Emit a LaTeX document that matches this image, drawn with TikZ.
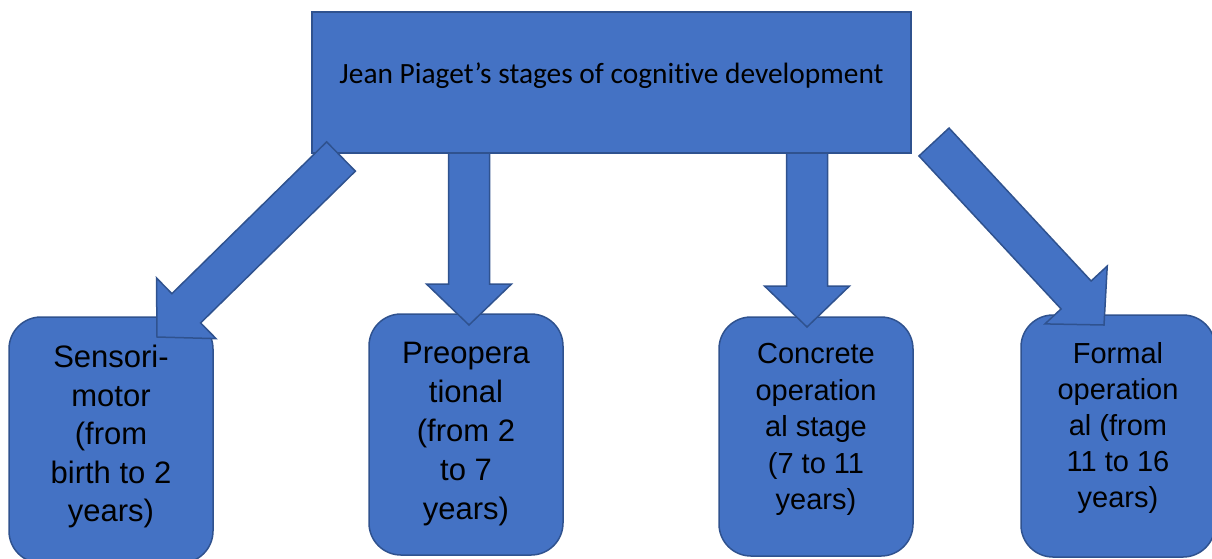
\documentclass[tikz,border=0pt]{standalone}
\usepackage{fontspec}
\setmainfont{Liberation Sans}
\newfontfamily\calibri[Ligatures=NoCommon]{Carlito}
\usetikzlibrary{calc}
\definecolor{fillblue}{HTML}{4472C4}
\definecolor{edgeblue}{HTML}{2F528F}
\tikzset{
  shapebase/.style={fill=fillblue, draw=edgeblue, line width=1.5pt, line join=miter},
  titlebox/.style={shapebase, inner sep=0pt, minimum width=599pt, minimum height=141pt,
    font=\calibri\fontsize{29.4}{35}\selectfont},
  stagebox/.style={shapebase, rounded corners=32pt, inner sep=0pt, align=center,
    minimum width=194pt},
  bigtext/.style={font=\fontsize{31}{38.5}\selectfont},
  smalltext/.style={font=\fontsize{29}{36.5}\selectfont},
}
\newcommand\lowpad[1]{\rule[-#1]{0pt}{0pt}}
% block arrow from tail coordinate #1 to tip coordinate #2
\newcommand\blockarrow[2]{%
  \coordinate (#2-base) at ($(#2)!41pt!(#1)$);
  \path[shapebase]
    ($(#1)!20.5pt!90:(#2)$) -- ($(#2-base)!20.5pt!90:(#2)$) --
    ($(#2-base)!42.5pt!90:(#2)$) -- (#2) --
    ($(#2-base)!42.5pt!-90:(#2)$) -- ($(#2-base)!20.5pt!-90:(#2)$) --
    ($(#1)!20.5pt!-90:(#2)$) -- cycle;
}
\begin{document}
\begin{tikzpicture}[x=1pt,y=-1pt]
\useasboundingbox (0,0) rectangle (1212,558);

\node[titlebox] (top) at (611.5,82.5)
  {Jean Piaget’s stages of cognitive development\lowpad{19.5pt}};

\node[stagebox, bigtext, minimum width=204pt, minimum height=246pt] (s1) at (111,440)
  {Sensori-\\motor\\(from\\birth to 2\\years)\lowpad{12.5pt}};
\node[stagebox, font=\fontsize{31}{39}\selectfont, minimum height=241pt] (s2) at (466,434.5)
  {Preopera\\tional\\(from 2\\to 7\\years)};
\node[stagebox, smalltext, minimum height=239pt] (s3) at (816,436.5)
  {Concrete\\operation\\al stage\\(7 to 11\\years)\lowpad{20pt}};
\node[stagebox, font=\fontsize{29}{36}\selectfont, minimum height=242pt] (s4) at (1118,436)
  {Formal\\operation\\al (from\\11 to 16\\years)\lowpad{23pt}};

\coordinate (t1) at (341,156.5);  \coordinate (p1) at (157,337);
\coordinate (t2) at (469,153);    \coordinate (p2) at (469,325);
\coordinate (t3) at (807,153);    \coordinate (p3) at (807,327);
\coordinate (t4) at (934,142);    \coordinate (p4) at (1104,325);

\blockarrow{t1}{p1}
\blockarrow{t2}{p2}
\blockarrow{t3}{p3}
\blockarrow{t4}{p4}
\end{tikzpicture}
\end{document}
